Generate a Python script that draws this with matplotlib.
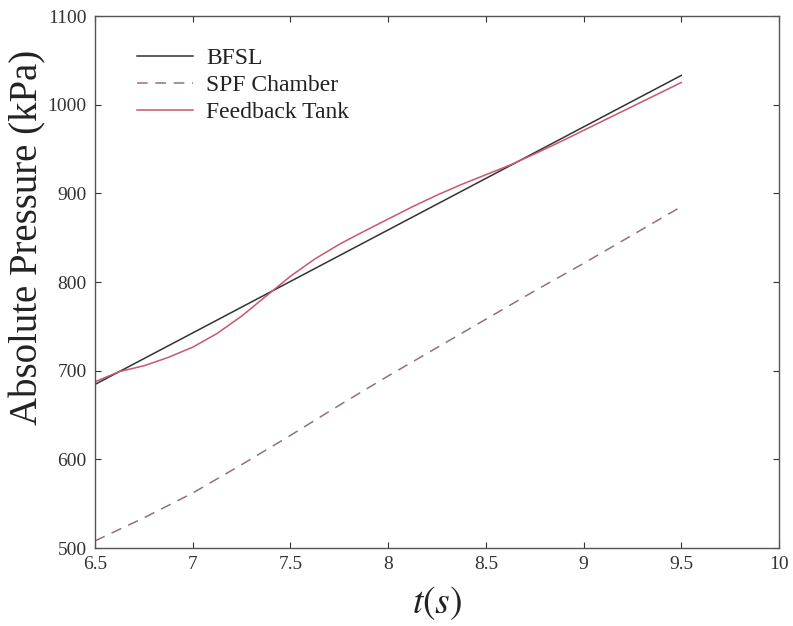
import matplotlib.pyplot as plt
import numpy as np

plt.rcParams['font.family'] = ['Liberation Serif', 'DejaVu Serif']
plt.rcParams['mathtext.fontset'] = 'stix'

# best-fit straight line endpoints
bfsl_t = [6.5, 9.5]
bfsl_p = [684.5, 1033]

# SPF chamber pressure (kPa), sampled every 0.25 s
spf_t = [6.5, 6.75, 7.0, 7.25, 7.5, 7.75, 8.0, 8.25, 8.5, 8.75, 9.0, 9.25, 9.5]
spf_chamber = [508, 534, 562, 594, 627, 661, 694, 726, 758, 790, 821, 853, 885]

# feedback tank pressure (kPa), sampled every 0.125 s
fb_t = [6.5, 6.625, 6.75, 6.875, 7.0, 7.125, 7.25, 7.375, 7.5, 7.625, 7.75,
        7.875, 8.0, 8.125, 8.25, 8.375, 8.5, 8.625, 8.75, 8.875, 9.0, 9.125,
        9.25, 9.375, 9.5]
feedback_tank = [687.5, 699, 705.5, 715, 726.5, 742, 761.5, 784, 806.5, 826,
                 842.5, 857, 871, 885, 898, 910, 921, 932, 944.5, 957.5, 971,
                 984.5, 998, 1011.5, 1025]

xticks = [6.5, 7, 7.5, 8, 8.5, 9, 9.5, 10]
xticklabels = ['6.5', '7', '7.5', '8', '8.5', '9', '9.5', '10']
yticks = [500, 600, 700, 800, 900, 1000, 1100]


def main():
    fig = plt.figure(figsize=(7.93, 6.26), dpi=100)
    ax = fig.add_axes([0.1198, 0.1246, 0.8625, 0.8498])

    ax.plot(bfsl_t, bfsl_p, color='#333333', lw=1.1, label='BFSL')
    ax.plot(spf_t, spf_chamber, color='#957078', lw=1.1, ls=(0, (7, 5)),
            label='SPF Chamber')
    ax.plot(fb_t, feedback_tank, color='#c8566f', lw=1.1,
            label='Feedback Tank')

    ax.set_xlim(6.5, 10)
    ax.set_ylim(500, 1100)
    ax.set_xticks(xticks)
    ax.set_xticklabels(xticklabels)
    ax.set_yticks(yticks)

    ax.tick_params(direction='in', top=True, right=True, length=4,
                   labelsize=14, colors='#333333', pad=6)
    for s in ax.spines.values():
        s.set_color('#555555')
        s.set_linewidth(1.0)

    ax.set_ylabel('Absolute Pressure (kPa)', fontsize=28, color='#222222')
    ax.yaxis.set_label_coords(-0.071, 0.583)
    ax.set_xlabel('$t(s)$', fontsize=27, color='#222222', labelpad=8)

    leg = ax.legend(loc='upper left', frameon=False, fontsize=17,
                    handlelength=2.4, handletextpad=0.55, labelspacing=0.22,
                    bbox_to_anchor=(0.03, 0.98))
    for txt in leg.get_texts():
        txt.set_color('#222222')

    fig.savefig('out.png', dpi=100)


if __name__ == "__main__":
    main()
